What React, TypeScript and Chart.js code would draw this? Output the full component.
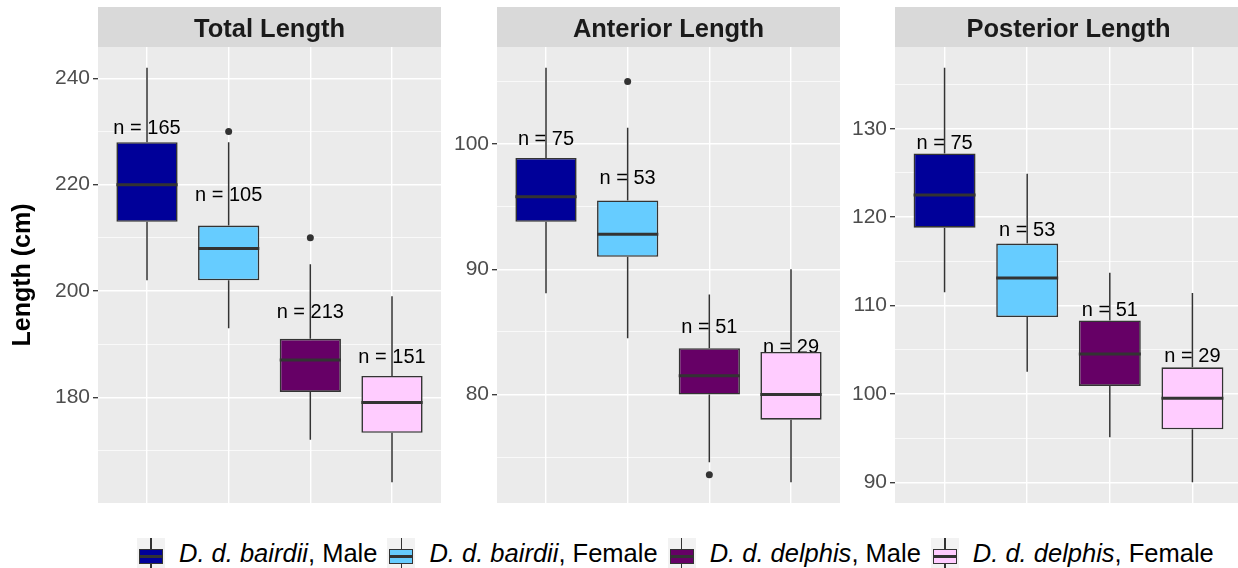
import React, { useEffect, useRef } from "react";
import { Chart, registerables } from "chart.js";

Chart.register(...registerables);

// ---------- DATA ----------
const speciesNames = ["D. d. bairdii", "D. d. bairdii", "D. d. delphis", "D. d. delphis"];
const sexNames = ["Male", "Female", "Male", "Female"];
const groupColors = ["#000099", "#66CCFF", "#660066", "#FFCCFF"];
const panelTitles = ["Total Length", "Anterior Length", "Posterior Length"];
const yAxisTitle = "Length (cm)";

// Total Length
const totalLower = [202, 193, 172, 164];
const totalQ1 = [213, 202, 181, 173.3];
const totalMedian = [220, 208, 187, 179];
const totalQ3 = [228, 212.3, 191, 184];
const totalUpper = [242, 228, 205, 199];
const totalN = [165, 105, 213, 151];
const totalOutliers = [[], [230], [210], []];
const totalMajorTicks = [180, 200, 220, 240];
const totalMinorTicks = [170, 190, 210, 230];

// Anterior Length
const anteriorLower = [88.1, 84.5, 74.6, 73.0];
const anteriorQ1 = [93.8, 91.0, 80.0, 78.0];
const anteriorMedian = [95.8, 92.8, 81.5, 80.0];
const anteriorQ3 = [98.9, 95.5, 83.7, 83.4];
const anteriorUpper = [106.1, 101.3, 88.0, 90.0];
const anteriorN = [75, 53, 51, 29];
const anteriorOutliers = [[], [105], [73.6], []];
const anteriorMajorTicks = [80, 90, 100];
const anteriorMinorTicks = [75, 85, 95, 105];

// Posterior Length
const posteriorLower = [111.5, 102.5, 95.1, 90.0];
const posteriorQ1 = [118.8, 108.7, 100.9, 96.0];
const posteriorMedian = [122.5, 113.1, 104.5, 99.5];
const posteriorQ3 = [127.2, 117.0, 108.3, 103.0];
const posteriorUpper = [136.9, 124.9, 113.7, 111.4];
const posteriorN = [75, 53, 51, 29];
const posteriorOutliers = [[], [], [], []];
const posteriorMajorTicks = [90, 100, 110, 120, 130];
const posteriorMinorTicks = [95, 105, 115, 125, 135];

const labelFactor = 1.05; // n-labels placed at median * 1.05

type Panel = {
  title: string;
  lower: number[];
  q1: number[];
  median: number[];
  q3: number[];
  upper: number[];
  n: number[];
  outliers: number[][];
  majors: number[];
  minors: number[];
};

const panels: Panel[] = [
  { title: panelTitles[0], lower: totalLower, q1: totalQ1, median: totalMedian, q3: totalQ3, upper: totalUpper, n: totalN, outliers: totalOutliers, majors: totalMajorTicks, minors: totalMinorTicks },
  { title: panelTitles[1], lower: anteriorLower, q1: anteriorQ1, median: anteriorMedian, q3: anteriorQ3, upper: anteriorUpper, n: anteriorN, outliers: anteriorOutliers, majors: anteriorMajorTicks, minors: anteriorMinorTicks },
  { title: panelTitles[2], lower: posteriorLower, q1: posteriorQ1, median: posteriorMedian, q3: posteriorQ3, upper: posteriorUpper, n: posteriorN, outliers: posteriorOutliers, majors: posteriorMajorTicks, minors: posteriorMinorTicks },
];

// ---------- LAYOUT ----------
const FONT = "'Liberation Sans', Arial, Helvetica, sans-serif";
const CANVAS_H = 522;
const PLOT_TOP = 47;
const PLOT_BOTTOM = 503;
const STRIP_TOP = 7;
const PANEL_W = 343;
const RIGHT_EXTRA = 4;
const layout = [
  { canvasLeft: 0, axisWidth: 98, showYTitle: true },
  { canvasLeft: 441, axisWidth: 56, showYTitle: false },
  { canvasLeft: 840, axisWidth: 55, showYTitle: false },
];

function PanelChart({ panel, canvasLeft, axisWidth, showYTitle }: { panel: Panel; canvasLeft: number; axisWidth: number; showYTitle: boolean }) {
  const ref = useRef<HTMLCanvasElement | null>(null);

  useEffect(() => {
    const canvas = ref.current;
    if (!canvas) return;
    const vals: number[] = [...panel.lower, ...panel.upper, ...panel.outliers.flat()];
    const dMin = Math.min(...vals);
    const dMax = Math.max(...vals);
    const pad = (dMax - dMin) * 0.05;
    const yMin = dMin - pad;
    const yMax = dMax + pad;
    const allTicks = [...panel.majors, ...panel.minors].filter((v) => v >= yMin && v <= yMax).sort((a, b) => a - b);
    const isMajor = (v: number) => panel.majors.includes(v);

    const outlierPoints: { x: number; y: number }[] = [];
    panel.outliers.forEach((arr, i) => arr.forEach((v) => outlierPoints.push({ x: i + 1, y: v })));

    const boxPlugin = {
      id: "boxplotPanel",
      beforeDraw(chart: any) {
        const { ctx, chartArea: a } = chart;
        ctx.save();
        ctx.fillStyle = "#EBEBEB";
        ctx.fillRect(a.left, a.top, a.right - a.left, a.bottom - a.top);
        ctx.fillStyle = "#D9D9D9";
        ctx.fillRect(a.left, STRIP_TOP, a.right - a.left, a.top - STRIP_TOP);
        ctx.fillStyle = "#1A1A1A";
        ctx.font = `bold 25.5px ${FONT}`;
        ctx.textAlign = "center";
        ctx.textBaseline = "alphabetic";
        ctx.fillText(panel.title, (a.left + a.right) / 2, 37);
        ctx.restore();
      },
      beforeDatasetsDraw(chart: any) {
        const { ctx } = chart;
        const xs = chart.scales.x;
        const ys = chart.scales.y;
        ctx.save();
        ctx.fillStyle = "#000000";
        ctx.font = `20px ${FONT}`;
        ctx.textAlign = "center";
        ctx.textBaseline = "middle";
        for (let i = 0; i < panel.n.length; i++) {
          ctx.fillText(`n = ${panel.n[i]}`, xs.getPixelForValue(i + 1), ys.getPixelForValue(panel.median[i] * labelFactor) + 2.5);
        }
        ctx.restore();
      },
      afterDatasetsDraw(chart: any) {
        const { ctx } = chart;
        const xs = chart.scales.x;
        const ys = chart.scales.y;
        ctx.save();
        ctx.strokeStyle = "#333333";
        ctx.lineCap = "butt";
        for (let i = 0; i < panel.median.length; i++) {
          const x = xs.getPixelForValue(i + 1);
          ctx.lineWidth = 1.5;
          ctx.beginPath();
          ctx.moveTo(x, ys.getPixelForValue(panel.q3[i]));
          ctx.lineTo(x, ys.getPixelForValue(panel.upper[i]));
          ctx.moveTo(x, ys.getPixelForValue(panel.q1[i]));
          ctx.lineTo(x, ys.getPixelForValue(panel.lower[i]));
          ctx.stroke();
          ctx.lineWidth = 3;
          ctx.beginPath();
          const my = ys.getPixelForValue(panel.median[i]);
          ctx.moveTo(xs.getPixelForValue(i + 1 - 0.375), my);
          ctx.lineTo(xs.getPixelForValue(i + 1 + 0.375), my);
          ctx.stroke();
        }
        ctx.restore();
      },
    };

    const chart = new Chart(canvas, {
      type: "bar",
      data: {
        datasets: [
          {
            type: "bar",
            data: panel.q1.map((q, i) => ({ x: i + 1, y: [q, panel.q3[i]] })) as any,
            backgroundColor: groupColors,
            borderColor: "#333333",
            borderWidth: 1.6,
            borderSkipped: false,
            barPercentage: 0.75,
            categoryPercentage: 1,
            order: 2,
          } as any,
          {
            type: "scatter",
            data: outlierPoints as any,
            pointRadius: 3.5,
            pointBackgroundColor: "#333333",
            pointBorderWidth: 0,
            order: 1,
          } as any,
        ],
      },
      options: {
        animation: false,
        responsive: false,
        maintainAspectRatio: false,
        events: [],
        layout: { padding: { top: PLOT_TOP, bottom: CANVAS_H - PLOT_BOTTOM, left: 0, right: 0 } },
        plugins: { legend: { display: false }, tooltip: { enabled: false }, title: { display: false } },
        scales: {
          x: {
            type: "linear",
            min: 0.4,
            max: 4.6,
            offset: false,
            afterBuildTicks: (s: any) => {
              s.ticks = panel.median.map((_, i) => ({ value: i + 1 }));
            },
            ticks: { display: false },
            grid: { color: "#FFFFFF", lineWidth: 1.4, drawTicks: false, offset: false },
            border: { display: false },
            afterFit: (s: any) => {
              s.height = 0;
            },
          },
          y: {
            type: "linear",
            min: yMin,
            max: yMax,
            afterBuildTicks: (s: any) => {
              s.ticks = allTicks.map((v) => ({ value: v }));
            },
            ticks: {
              autoSkip: false,
              callback: (v: any) => (isMajor(Number(v)) ? String(v) : ""),
              color: "#4D4D4D",
              font: { size: 21, family: FONT },
              padding: 3,
            },
            grid: {
              color: "#FFFFFF",
              lineWidth: (ctx: any) => (ctx.tick && isMajor(ctx.tick.value) ? 1.4 : 0.7),
              tickColor: (ctx: any) => (ctx.tick && isMajor(ctx.tick.value) ? "#333333" : "rgba(0,0,0,0)"),
              tickLength: 5,
              tickWidth: 1.3,
            },
            border: { display: false },
            title: {
              display: showYTitle,
              text: yAxisTitle,
              color: "#000000",
              font: { size: 25, weight: "bold", family: FONT },
              padding: { top: 8, bottom: 0 },
            },
            afterFit: (s: any) => {
              s.width = axisWidth;
            },
          },
        },
      } as any,
      plugins: [boxPlugin],
    });
    return () => chart.destroy();
  }, [panel, axisWidth, showYTitle]);

  const w = axisWidth + PANEL_W + RIGHT_EXTRA;
  return (
    <canvas
      ref={ref}
      width={w}
      height={CANVAS_H}
      style={{ position: "absolute", left: canvasLeft, top: 0, width: w, height: CANVAS_H }}
    />
  );
}

function LegendKey({ color }: { color: string }) {
  return (
    <div style={{ position: "relative", width: 28, height: 30, background: "#F2F2F2", flex: "none" }}>
      <div style={{ position: "absolute", left: 13.25, top: 0, width: 1.5, height: 30, background: "#333333" }} />
      <div
        style={{
          position: "absolute",
          left: 2,
          top: 10.5,
          width: 24,
          height: 15,
          boxSizing: "border-box",
          border: "1.5px solid #333333",
          background: color,
        }}
      />
      <div style={{ position: "absolute", left: 2, top: 16.5, width: 24, height: 3, background: "#333333" }} />
    </div>
  );
}

export default function App() {
  return (
    <div style={{ position: "absolute", left: 0, top: 0, width: 1238, height: 568, background: "#FFFFFF", overflow: "hidden" }}>
      {panels.map((p, i) => (
        <PanelChart key={p.title} panel={p} {...layout[i]} />
      ))}
      <div
        style={{
          position: "absolute",
          left: 137,
          top: 538,
          height: 30,
          display: "flex",
          alignItems: "center",
          fontFamily: FONT,
          fontSize: 25.5,
          color: "#000000",
          whiteSpace: "nowrap",
        }}
      >
        {speciesNames.map((sp, i) => (
          <div key={i} style={{ display: "flex", alignItems: "center", marginLeft: i === 0 ? 0 : 10 }}>
            <LegendKey color={groupColors[i]} />
            <span style={{ marginLeft: 14, lineHeight: "30px" }}>
              <i>{sp}</i>, {sexNames[i]}
            </span>
          </div>
        ))}
      </div>
    </div>
  );
}
